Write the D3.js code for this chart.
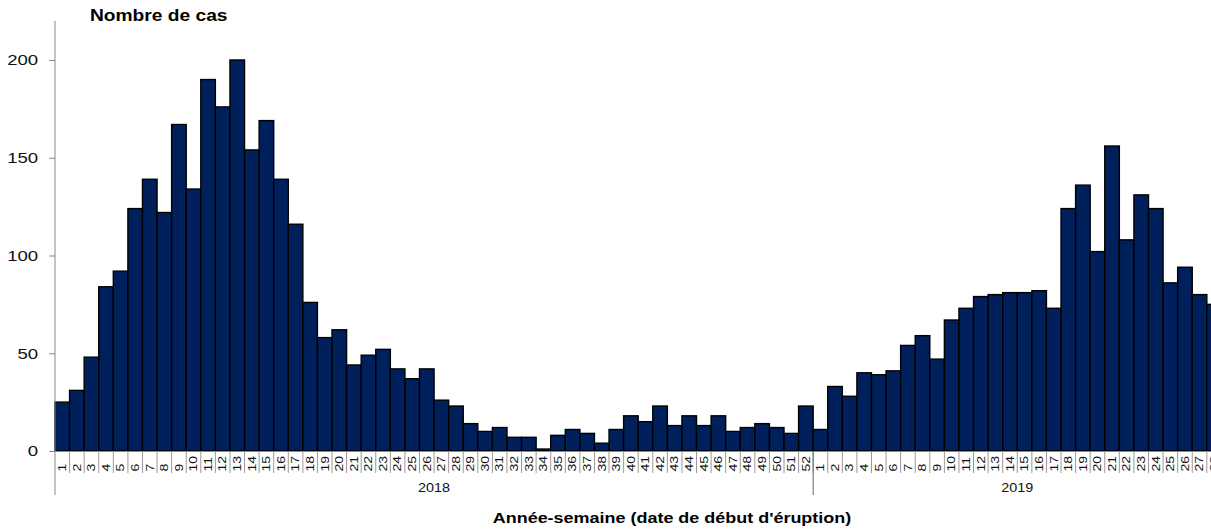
<!DOCTYPE html>
<html>
<head>
<meta charset="utf-8">
<script src="https://cdn.jsdelivr.net/npm/d3@7"></script>
<style>
body { margin: 0; background: #fff; }
svg { display: block; font-family: "Liberation Sans", Arial, sans-serif; }
</style>
</head>
<body>
<svg id="chart" width="1211" height="530"></svg>
<script>
// weekly case counts
var weeks2018 = d3.range(1, 53);
var cases2018 = [25,31,48,84,92,124,139,122,167,134,190,176,200,154,169,139,116,76,58,62,
                 44,49,52,42,37,42,26,23,14,10,12,7,7,1,8,11,9,4,11,18,
                 15,23,13,18,13,18,10,12,14,12,9,23];
var weeks2019 = d3.range(1, 29);
var cases2019 = [11,33,28,40,39,41,54,59,47,67,73,79,80,81,81,82,73,124,136,102,
                 156,108,131,124,86,94,80,75];
var yTicks = [0, 50, 100, 150, 200];
var years = ["2018", "2019"];

var data = [];
for (var i = 0; i < weeks2018.length; i++)
    data.push({year: "2018", week: weeks2018[i], value: cases2018[i]});
for (var i = 0; i < weeks2019.length; i++)
    data.push({year: "2019", week: weeks2019[i], value: cases2019[i]});

var left = 55, bottom = 451, step = 14.58;
var stretch = 1.2;   // the original's text is drawn a bit wide

var canvas = d3.select("#chart");

var x = d3.scaleBand()
    .domain(data.map(function(d){ return d.year + "-" + d.week; }))
    .range([left, left + data.length * step])
    .padding(0);

var y = d3.scaleLinear()
    .domain([0, 220])
    .range([bottom, bottom - 220 * 1.955]);

//bars
canvas.selectAll("rect.bins")
    .data(data)
    .enter().append("rect")
    .attr("class", "bins")
    .attr("x", function(d){ return x(d.year + "-" + d.week); })
    .attr("y", function(d){ return y(d.value); })
    .attr("width", x.bandwidth())
    .attr("height", function(d){ return bottom - y(d.value); })
    .attr("fill", "#00205c")
    .attr("stroke", "#000")
    .attr("stroke-width", 1.4);

//y axis
var yAxis = canvas.append("g")
    .attr("transform", "translate(" + left + ",0)")
    .call(d3.axisLeft(y).tickValues(yTicks).tickSize(6).tickPadding(8));
yAxis.select(".domain").attr("stroke", "#888").attr("d", "M0," + y(220) + "V" + (bottom + 44));
yAxis.selectAll(".tick line").attr("stroke", "#888");
yAxis.selectAll(".tick text")
    .attr("font-size", 15.5)
    .attr("font-family", "Liberation Sans, Arial, sans-serif")
    .attr("fill", "#111")
    .attr("transform", "scale(" + stretch + ",1)");

//x axis line
canvas.append("line")
    .attr("x1", left - 6).attr("x2", 1211)
    .attr("y1", bottom + 0.5).attr("y2", bottom + 0.5)
    .attr("stroke", "#888");

//week grooves and labels
var weekG = canvas.append("g").attr("class", "weeks");
weekG.selectAll("line")
    .data(data)
    .enter().append("line")
    .attr("x1", function(d){ return x(d.year + "-" + d.week) + x.bandwidth(); })
    .attr("x2", function(d){ return x(d.year + "-" + d.week) + x.bandwidth(); })
    .attr("y1", bottom)
    .attr("y2", bottom + 22)
    .attr("stroke", "#999");
weekG.selectAll("text")
    .data(data)
    .enter().append("text")
    .attr("transform", function(d){
        var cx = x(d.year + "-" + d.week) + x.bandwidth() / 2;
        return "translate(" + (cx + 3.8) + "," + (bottom + 20.5) + ") rotate(-90) scale(1,0.75)";
    })
    .attr("text-anchor", "start")
    .attr("font-size", 14)
    .attr("fill", "#111")
    .text(function(d){ return d.week; });

//year separators and labels
var yearStart = {"2018": left, "2019": x("2019-1")};
var yearEnd = {"2018": x("2018-52") + x.bandwidth(), "2019": x("2019-28") + x.bandwidth()};
canvas.append("line")
    .attr("x1", yearStart["2019"]).attr("x2", yearStart["2019"])
    .attr("y1", bottom).attr("y2", bottom + 44)
    .attr("stroke", "#666");
canvas.selectAll("text.year")
    .data(years)
    .enter().append("text")
    .attr("class", "year")
    .attr("x", function(d){ return (yearStart[d] + yearEnd[d]) / 2 / stretch; })
    .attr("y", bottom + 41)
    .attr("transform", "scale(" + stretch + ",1)")
    .attr("text-anchor", "middle")
    .attr("font-size", 12)
    .attr("fill", "#111")
    .text(function(d){ return d; });

//titles
canvas.append("text")
    .attr("x", 90 / stretch).attr("y", 21.5)
    .attr("transform", "scale(" + stretch + ",1)")
    .attr("font-size", 16)
    .attr("font-weight", "bold")
    .text("Nombre de cas");

canvas.append("text")
    .attr("x", 672 / 1.16).attr("y", 523.5)
    .attr("transform", "scale(1.16,1)")
    .attr("text-anchor", "middle")
    .attr("font-size", 15.5)
    .attr("font-weight", "bold")
    .text("Année-semaine (date de début d'éruption)");
</script>
</body>
</html>
